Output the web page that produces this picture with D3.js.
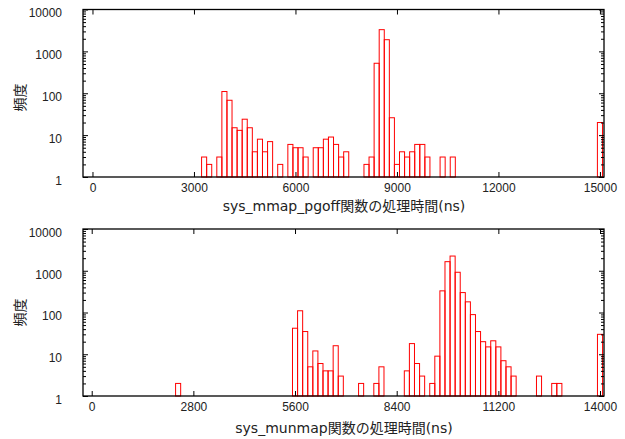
<!DOCTYPE html>
<html><head><meta charset="utf-8">
<script src="https://cdn.jsdelivr.net/npm/d3@7"></script>
<style>
body{margin:0;background:#fff;}
.tick text{font-family:"Liberation Sans",Arial,sans-serif;font-size:12px;fill:#222;}
.lbl{font-family:"DejaVu Sans","Noto Sans CJK JP",sans-serif;font-size:14px;fill:#222;}
</style>
</head><body>
<script>
// ---- data ----
const mmapCenters = [3300,3450,3750,3900,4050,4200,4350,4500,4650,4800,4950,5100,5250,5550,5850,6000,6150,6300,6600,6750,6900,7050,7200,7350,7500,8100,8250,8400,8550,8700,8850,9000,9150,9300,9450,9600,9750,9900,10350,10650,15000];
const mmapCounts  = [3,2,3,110,68,15,13,24,15,4,8,4,7,2,6,5,5,3,5,5,8,9,6,3,4,2,3,520,3300,1900,26,2,4,3,4,6,6,3,3,3,20];
const mmapBinWidth = 150;
const mmapXTicks = [0,3000,6000,9000,12000,15000];

const munmapCenters = [2380,5600,5740,5880,6020,6160,6300,6440,6580,6720,6860,7420,7840,7980,8680,8820,8960,9100,9380,9520,9660,9800,9940,10080,10220,10360,10500,10640,10780,10920,11060,11200,11340,11480,11620,12320,12740,12880,14000];
const munmapCounts  = [2,42,110,35,5,12,6,4,4,16,3,2,2,5,4,18,6,3,2,9,330,1650,2250,920,300,180,89,35,20,15,21,15,7,5,3,3,2,2,30];
const munmapBinWidth = 140;
const munmapXTicks = [0,2800,5600,8400,11200,14000];

const yTicks = [1,10,100,1000,10000];
const yMinor = [];
for (let e = 0; e < 4; e++) for (let m = 2; m <= 9; m++) yMinor.push(m * Math.pow(10, e));

const mmapLabel = "sys_mmap_pgoff関数の処理時間(ns)";
const munmapLabel = "sys_munmap関数の処理時間(ns)";
const yLabel = "頻度";

const W = 625, H = 439;
const svg = d3.select("body").append("svg").attr("width", W).attr("height", H);

function panel(opt) {
  const {left, right, top, bottom, xDomain, centers, counts, bw, xTicks, label, labelY, yLabelY} = opt;
  const x = d3.scaleLinear().domain(xDomain).range([left, right]);
  const y = d3.scaleLog().domain([1, 10000]).range([bottom, top]);
  const g = svg.append("g");

  // bars
  g.append("g").selectAll("rect").data(centers.map((c, i) => ({c, v: counts[i]})))
    .join("rect")
    .attr("x", d => x(d.c - bw / 2))
    .attr("width", d => x(d.c + bw / 2) - x(d.c - bw / 2))
    .attr("y", d => y(d.v))
    .attr("height", d => y(1) - y(d.v))
    .attr("fill", "none")
    .attr("stroke", "#ff0000")
    .attr("stroke-width", 1);

  // x axes
  const xb = g.append("g").attr("transform", `translate(0,${bottom})`)
    .call(d3.axisBottom(x).tickValues(xTicks).tickSize(-5).tickPadding(6).tickFormat(d3.format("d")));
  const xt = g.append("g").attr("transform", `translate(0,${top})`)
    .call(d3.axisTop(x).tickValues(xTicks).tickSize(-5).tickFormat(""));
  // y axes
  const yl = g.append("g").attr("transform", `translate(${left},0)`)
    .call(d3.axisLeft(y).tickValues(yTicks).tickSize(-5).tickPadding(21).tickFormat(d3.format("d")));
  yl.selectAll(".tick text").attr("dy", "0.62em");
  g.append("g").attr("transform", `translate(${left},0)`)
    .call(d3.axisLeft(y).tickValues(yMinor).tickSize(-3).tickFormat(""));
  g.append("g").attr("transform", `translate(${right},0)`)
    .call(d3.axisRight(y).tickValues(yTicks).tickSize(-5).tickFormat(""));
  g.append("g").attr("transform", `translate(${right},0)`)
    .call(d3.axisRight(y).tickValues(yMinor).tickSize(-3).tickFormat(""));
  g.selectAll(".domain").remove();
  g.selectAll(".tick line").attr("stroke", "#000").attr("stroke-width", 1);

  // border
  g.append("rect").attr("x", left).attr("y", top)
    .attr("width", right - left).attr("height", bottom - top)
    .attr("fill", "none").attr("stroke", "#000").attr("stroke-width", 1.3);

  g.append("text").attr("class", "lbl").attr("x", (left + right) / 2 + 0.5).attr("y", labelY)
    .attr("text-anchor", "middle").text(label);
  g.append("text").attr("class", "lbl")
    .attr("transform", `translate(25,${yLabelY}) rotate(-90)`)
    .attr("text-anchor", "middle").text(yLabel);
}

panel({left: 83, right: 604, top: 9.5, bottom: 177, xDomain: [-280, 15120],
  centers: mmapCenters, counts: mmapCounts, bw: mmapBinWidth, xTicks: mmapXTicks,
  label: mmapLabel, labelY: 211, yLabelY: 97.5});
panel({left: 83, right: 604, top: 229, bottom: 396, xDomain: [-240, 14110],
  centers: munmapCenters, counts: munmapCounts, bw: munmapBinWidth, xTicks: munmapXTicks,
  label: munmapLabel, labelY: 433, yLabelY: 312.5});
</script>
</body></html>
